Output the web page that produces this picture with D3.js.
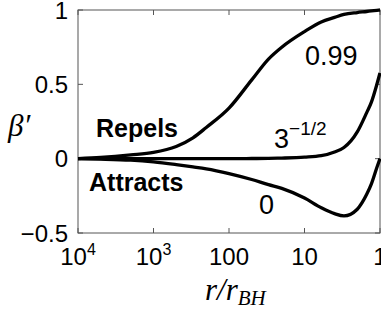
<!DOCTYPE html>
<html>
<head>
<meta charset="utf-8">
<script src="https://cdn.jsdelivr.net/npm/d3@7"></script>
<style>
  body { margin: 0; background: #fff; }
  svg { display: block; }
  text { font-family: "Liberation Sans", Arial, sans-serif; fill: #000; }
  text.serif { font-family: "Liberation Serif", "Times New Roman", serif; font-style: italic; }
</style>
</head>
<body>
<div id="main"></div>
<script>
const ctx = {
    SVG_W: 381,
    SVG_H: 316,
    LEFT: 78, RIGHT: 380, TOP: 10, BOTTOM: 233,
};

// r / r_BH sample points (axis runs from 10^4 down to 1)
const rValues = [10000, 5000, 2000, 1000, 500, 300, 200, 100, 50, 30, 20, 10, 6, 4, 3, 2, 1.5, 1.3, 1.1, 1];
// beta' for each case
const beta099 = [0, 0.008, 0.025, 0.042, 0.082, 0.14, 0.21, 0.34, 0.53, 0.67, 0.75, 0.855, 0.92, 0.95, 0.97, 0.983, 0.99, 0.994, 0.998, 1.0];
const betaInvSqrt3 = [0, 0, 0, 0, 0, 0, 0, 0, 0.001, 0.002, 0.004, 0.01, 0.02, 0.045, 0.075, 0.18, 0.31, 0.38, 0.5, 0.577];
const beta0 = [0, -0.003, -0.01, -0.022, -0.04, -0.055, -0.068, -0.1, -0.14, -0.175, -0.2, -0.265, -0.33, -0.37, -0.385, -0.34, -0.24, -0.17, -0.06, 0];

const xTicks = [10000, 1000, 100, 10, 1];
const xTickLabels = [["10", "4"], ["10", "3"], ["100", ""], ["10", ""], ["1", ""]];
const yTicks = [-0.5, 0, 0.5, 1];
const yTickLabels = ["\u22120.5", "0", "0.5", "1"];

function createViz() {
    let svgEl = d3.select("#main").append("svg")
        .attr("width", ctx.SVG_W)
        .attr("height", ctx.SVG_H);

    let x = d3.scaleLog().domain([10000, 1]).range([ctx.LEFT, ctx.RIGHT]);
    let y = d3.scaleLinear().domain([-0.5, 1]).range([ctx.BOTTOM, ctx.TOP]);

    // box
    svgEl.append("rect")
        .attr("x", ctx.LEFT).attr("y", ctx.TOP)
        .attr("width", ctx.RIGHT - ctx.LEFT).attr("height", ctx.BOTTOM - ctx.TOP)
        .attr("fill", "none").attr("stroke", "#555").attr("stroke-width", 1);

    // inward ticks on all four sides
    let tk = svgEl.append("g").attr("stroke", "#555").attr("stroke-width", 1);
    xTicks.forEach(function (t) {
        tk.append("line").attr("x1", x(t)).attr("x2", x(t)).attr("y1", ctx.BOTTOM).attr("y2", ctx.BOTTOM - 5);
        tk.append("line").attr("x1", x(t)).attr("x2", x(t)).attr("y1", ctx.TOP).attr("y2", ctx.TOP + 5);
    });
    yTicks.forEach(function (t) {
        tk.append("line").attr("x1", ctx.LEFT).attr("x2", ctx.LEFT + 5).attr("y1", y(t)).attr("y2", y(t));
        tk.append("line").attr("x1", ctx.RIGHT).attr("x2", ctx.RIGHT - 5).attr("y1", y(t)).attr("y2", y(t));
    });

    // tick labels
    xTicks.forEach(function (t, i) {
        let lab = svgEl.append("text")
            .attr("x", x(t)).attr("y", 265)
            .attr("text-anchor", "middle")
            .attr("font-size", 24);
        lab.append("tspan").text(xTickLabels[i][0]);
        if (xTickLabels[i][1] !== "") {
            lab.append("tspan").attr("font-size", 16).attr("dy", -10).text(xTickLabels[i][1]);
        }
    });
    yTicks.forEach(function (t, i) {
        svgEl.append("text")
            .attr("x", 68).attr("y", y(t) + 8.5)
            .attr("text-anchor", "end")
            .attr("font-size", 24)
            .text(yTickLabels[i]);
    });

    // curves
    let line = d3.line()
        .x(function (d) { return x(d[0]); })
        .y(function (d) { return y(d[1]); })
        .curve(d3.curveMonotoneX);
    [beta0, betaInvSqrt3, beta099].forEach(function (s) {
        svgEl.append("path")
            .datum(rValues.map(function (r, i) { return [r, s[i]]; }))
            .attr("d", line)
            .attr("fill", "none")
            .attr("stroke", "#000")
            .attr("stroke-width", 3.3)
            .attr("stroke-linejoin", "round");
    });

    // curve annotations
    svgEl.append("text").attr("x", 305).attr("y", 65).attr("font-size", 27).text("0.99");
    let s3 = svgEl.append("text").attr("x", 274).attr("y", 148).attr("font-size", 27);
    s3.append("tspan").text("3");
    s3.append("tspan").attr("font-size", 19).attr("dy", -13).text("\u22121/2");
    svgEl.append("text").attr("x", 259).attr("y", 214).attr("font-size", 27).text("0");

    svgEl.append("text").attr("x", 96).attr("y", 137).attr("font-size", 25).attr("font-weight", "bold").text("Repels");
    svgEl.append("text").attr("x", 89).attr("y", 191).attr("font-size", 25).attr("font-weight", "bold").text("Attracts");

    // axis titles
    let xl = svgEl.append("text")
        .attr("class", "serif")
        .attr("x", 205).attr("y", 300)
        .attr("font-size", 31);
    xl.append("tspan").text("r/r");
    xl.append("tspan").attr("font-size", 21).attr("dy", 5).text("BH");

    svgEl.append("text")
        .attr("class", "serif")
        .attr("x", 8).attr("y", 136)
        .attr("font-size", 31)
        .text("\u03b2\u2032");
}

createViz();
</script>
</body>
</html>
